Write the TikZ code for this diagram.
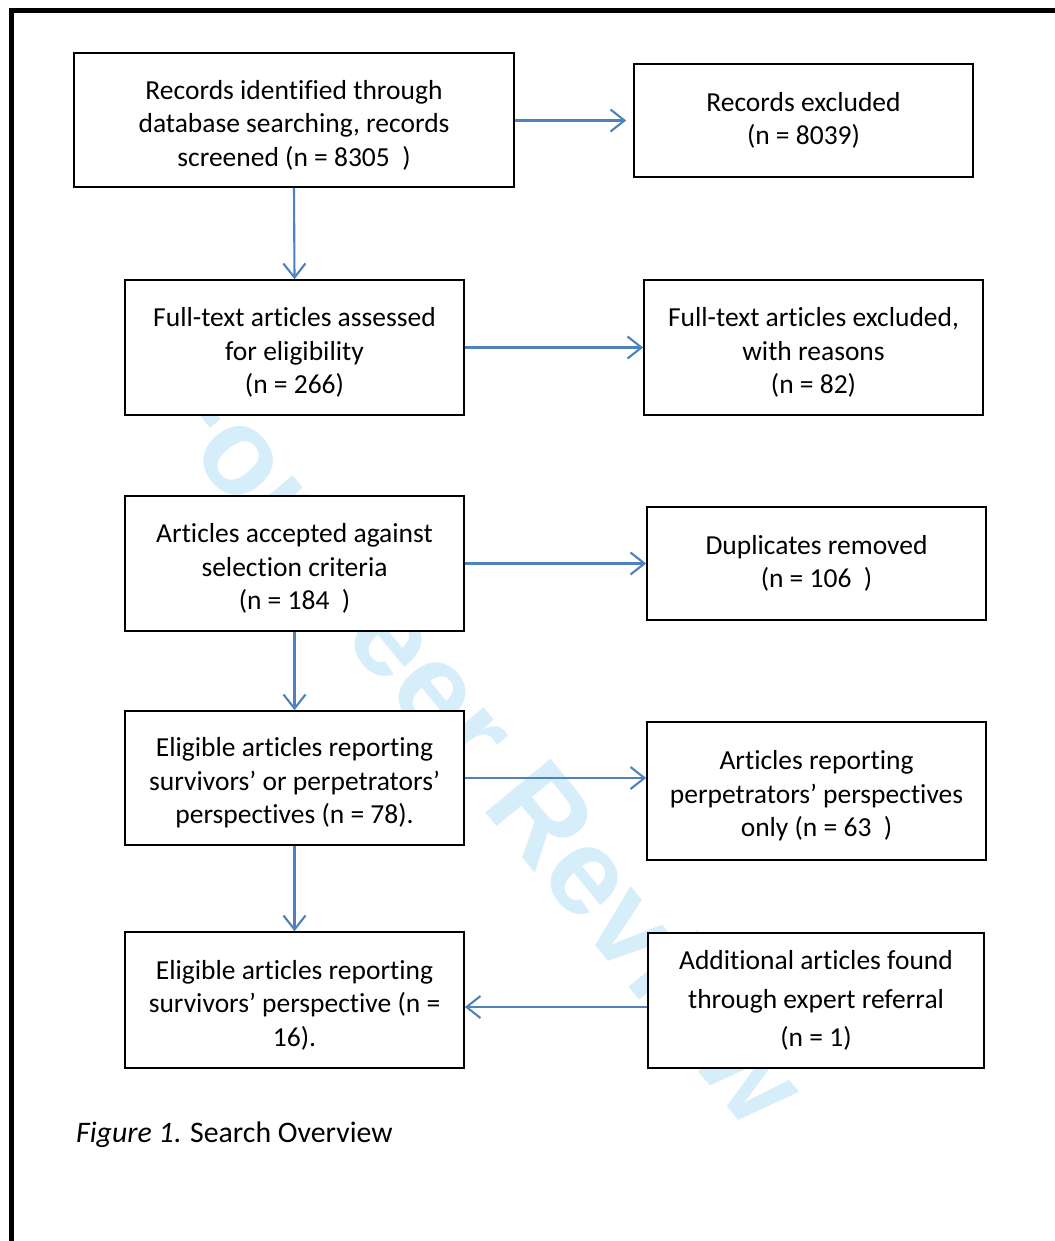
\documentclass[tikz,border=0pt]{standalone}
\usepackage{fontspec}
\setmainfont{Carlito}[Ligatures={NoCommon,NoRequired,NoContextual}]
\newfontfamily\wmfont{Liberation Sans}
\usetikzlibrary{arrows.meta}
\definecolor{arrowblue}{RGB}{79,129,189}
\definecolor{wmblue}{RGB}{214,238,250}
\newcommand\uprule{\rule{0pt}{29pt}}
\begin{document}
\begin{tikzpicture}[x=1pt,y=-1pt,
  box/.style={draw=black, line width=1.6pt, fill=white, rectangle, inner sep=0pt,
    align=center, font=\fontsize{27.5}{33.5}\selectfont},
  arr/.style={draw=arrowblue, line width=2.1pt, -{Straight Barb[length=14pt,width=22pt]}}]
\useasboundingbox (0,0) rectangle (1054,1241);
\fill[white] (0,0) rectangle (1054,1241);
% watermark
\node[text=wmblue, rotate=-50.6, font=\wmfont\bfseries\fontsize{123}{123}\selectfont] (wm) at (480,736) {For Peer Review};
% page border
\draw[line width=4.5pt] (11.7,1250) -- (11.7,10.3) -- (1060,10.3);
% boxes
\node[box, minimum width=440pt, minimum height=134pt] (a) at (294,120) {\uprule Records identified through\\database searching, records\\screened (n = 8305~~)};
\node[box, minimum width=339pt, minimum height=113pt] (b) at (803.5,120.5) {Records excluded\\(n = 8039)};
\node[box, minimum width=339pt, minimum height=135pt] (c) at (294.5,347.5) {\uprule Full-text articles assessed\\for eligibility\\(n = 266)};
\node[box, minimum width=339pt, minimum height=135pt] (d) at (813.5,347.5) {\uprule Full-text articles excluded,\\with reasons\\(n = 82)};
\node[box, minimum width=339pt, minimum height=135pt] (e) at (294.5,563.5) {\uprule Articles accepted against\\selection criteria\\(n = 184~~)};
\node[box, minimum width=339pt, minimum height=113pt] (f) at (816.5,563.5) {Duplicates removed\\(n = 106~~)};
\node[box, minimum width=339pt, minimum height=134pt] (g) at (294.5,778) {\uprule Eligible articles reporting\\survivors’ or perpetrators’\\perspectives (n = 78).};
\node[box, minimum width=339pt, minimum height=138pt] (h) at (816.5,791) {\uprule Articles reporting\\perpetrators’ perspectives\\only (n = 63~~)};
\node[box, minimum width=339pt, minimum height=136pt] (i) at (294.5,1000) {\uprule Eligible articles reporting\\survivors’ perspective (n =\\16).};
\node[box, minimum width=336pt, minimum height=135pt, font=\fontsize{27.5}{38.5}\selectfont] (j) at (816,1000.5) {Additional articles found\\through expert referral\\(n = 1)};
% caption
\node[anchor=base west, inner sep=0pt, font=\fontsize{29.8}{36}\selectfont] (cap) at (76,1142) {\textit{Figure 1}. Search Overview};
% connectors
\draw[arr, shorten >=7pt] (a.east |- b.west) -- (b.west);
\draw[arr] (a.south) -- (c.north);
\draw[arr] (c.east) -- (c.east -| d.west);
\draw[arr] (e.east) -- (e.east -| f.west);
\draw[arr] (e.south) -- (g.north);
\draw[arr] (g.east) -- (g.east -| h.west);
\draw[arr] (g.south) -- (i.north);
\coordinate (jw) at ([yshift=-6.5pt]j.west);
\draw[arr] (jw) -- (jw -| i.east);
\end{tikzpicture}
\end{document}
